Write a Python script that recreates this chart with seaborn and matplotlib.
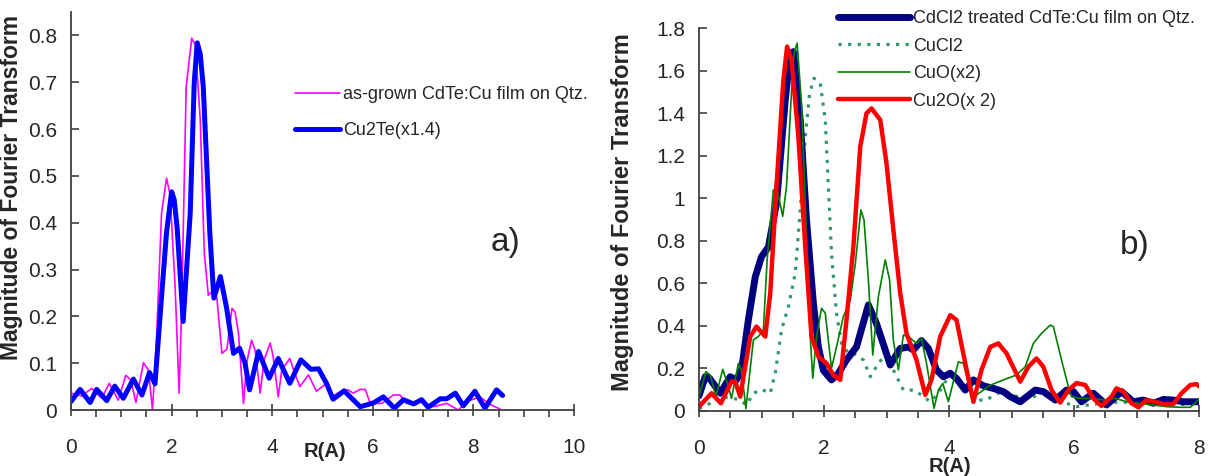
import matplotlib
matplotlib.use("Agg")
import matplotlib.pyplot as plt
from matplotlib.ticker import MultipleLocator
import seaborn as sns

# ---------------- data: panel a ----------------
r_asgrown = [0, 0.21, 0.41, 0.61, 0.76, 0.94, 1.09, 1.19, 1.29, 1.44,
             1.54, 1.62, 1.70, 1.80, 1.90, 1.97, 2.07, 2.15, 2.20, 2.29,
             2.40, 2.47, 2.57, 2.65, 2.73, 2.80, 2.90, 3.00, 3.10, 3.20,
             3.26, 3.33, 3.43, 3.49, 3.59, 3.66, 3.76, 3.84, 3.96, 4.02,
             4.12, 4.19, 4.35, 4.45, 4.55, 4.72, 4.88, 5.08, 5.21, 5.41,
             5.51, 5.61, 5.75, 5.85, 5.95, 6.08, 6.18, 6.41, 6.54, 6.67,
             6.94, 7.20, 7.47, 7.70, 7.87, 8.13, 8.33, 8.53]
m_asgrown = [0.036, 0.030, 0.046, 0.025, 0.057, 0.021, 0.074, 0.064, 0.016, 0.101,
             0.085, 0.000, 0.150, 0.420, 0.495, 0.460, 0.263, 0.036, 0.220, 0.690,
             0.794, 0.780, 0.620, 0.335, 0.245, 0.253, 0.240, 0.121, 0.130, 0.217,
             0.210, 0.164, 0.014, 0.100, 0.149, 0.128, 0.036, 0.107, 0.143, 0.114,
             0.028, 0.085, 0.110, 0.078, 0.050, 0.075, 0.040, 0.057, 0.030, 0.043,
             0.043, 0.036, 0.044, 0.044, 0.014, 0.014, 0.014, 0.032, 0.032, 0.014,
             0.019, 0.007, 0.014, 0.000, 0.018, 0.028, 0.012, 0.002]

r_cu2te = [0, 0.18, 0.38, 0.51, 0.71, 0.87, 1.04, 1.24, 1.41, 1.56,
           1.67, 1.80, 1.90, 2.00, 2.05, 2.11, 2.23, 2.37, 2.45, 2.51,
           2.57, 2.63, 2.76, 2.84, 2.97, 3.09, 3.23, 3.35, 3.46, 3.55,
           3.73, 3.94, 4.12, 4.35, 4.57, 4.77, 4.92, 5.08, 5.21, 5.43,
           5.75, 6.01, 6.21, 6.43, 6.61, 6.81, 6.97, 7.10, 7.34, 7.47,
           7.64, 7.80, 8.03, 8.23, 8.46, 8.58]
m_cu2te = [0.018, 0.044, 0.016, 0.044, 0.020, 0.051, 0.025, 0.066, 0.032, 0.080,
           0.056, 0.242, 0.380, 0.466, 0.450, 0.390, 0.189, 0.420, 0.700, 0.784,
           0.760, 0.690, 0.378, 0.239, 0.285, 0.220, 0.121, 0.132, 0.100, 0.043,
           0.125, 0.068, 0.110, 0.057, 0.107, 0.087, 0.088, 0.057, 0.023, 0.041,
           0.007, 0.015, 0.028, 0.004, 0.022, 0.013, 0.022, 0.006, 0.024, 0.024,
           0.036, 0.009, 0.040, 0.004, 0.043, 0.031]

# ---------------- data: panel b ----------------
r_cdcl2 = [0, 0.10, 0.17, 0.34, 0.50, 0.60, 0.68, 0.79, 0.90, 1.00,
           1.11, 1.24, 1.38, 1.46, 1.51, 1.62, 1.72, 1.83, 1.91, 1.99,
           2.12, 2.23, 2.36, 2.52, 2.71, 2.84, 2.98, 3.06, 3.22, 3.35,
           3.43, 3.56, 3.67, 3.80, 3.91, 4.02, 4.12, 4.26, 4.39, 4.55,
           4.71, 4.87, 4.98, 5.14, 5.38, 5.51, 5.70, 5.88, 5.99, 6.12,
           6.31, 6.52, 6.76, 6.95, 7.11, 7.27, 7.43, 7.59, 7.75, 7.91, 8.0]
m_cdcl2 = [0.07, 0.16, 0.152, 0.082, 0.16, 0.145, 0.19, 0.427, 0.63, 0.725,
           0.77, 0.976, 1.463, 1.68, 1.69, 1.368, 0.898, 0.506, 0.30, 0.19,
           0.145, 0.176, 0.239, 0.30, 0.498, 0.41, 0.286, 0.215, 0.293, 0.30,
           0.286, 0.33, 0.293, 0.192, 0.16, 0.176, 0.152, 0.097, 0.145, 0.117,
           0.105, 0.09, 0.066, 0.042, 0.097, 0.09, 0.05, 0.097, 0.09, 0.042,
           0.082, 0.027, 0.09, 0.042, 0.05, 0.035, 0.053, 0.05, 0.042, 0.042, 0.042]

r_cucl2 = [0, 0.18, 0.34, 0.55, 0.66, 0.76, 0.87, 1.00, 1.14, 1.22,
           1.32, 1.43, 1.54, 1.62, 1.70, 1.77, 1.84, 1.94, 2.02, 2.07,
           2.12, 2.20, 2.28, 2.39, 2.47, 2.63, 2.74, 2.87, 3.00, 3.11,
           3.27, 3.43, 3.56, 3.70, 3.83, 3.96, 4.12, 4.28, 4.44, 4.60,
           4.76, 4.95, 5.15, 5.32, 5.48, 5.88, 6.04, 6.30, 6.60, 7.00,
           7.40, 7.80, 8.0]
m_cucl2 = [0.01, 0.035, 0.066, 0.058, 0.05, 0.027, 0.082, 0.10, 0.082, 0.176,
           0.38, 0.49, 0.647, 0.945, 1.29, 1.494, 1.565, 1.541, 1.368, 1.055,
           0.741, 0.459, 0.318, 0.27, 0.27, 0.239, 0.16, 0.223, 0.27, 0.192,
           0.097, 0.097, 0.074, 0.042, 0.082, 0.145, 0.16, 0.097, 0.05, 0.05,
           0.082, 0.085, 0.058, 0.058, 0.09, 0.035, 0.019, 0.03, 0.04, 0.04,
           0.03, 0.03, 0.04]

r_cuo = [0, 0.11, 0.18, 0.27, 0.38, 0.47, 0.52, 0.63, 0.68, 0.75,
         0.87, 0.95, 1.03, 1.09, 1.19, 1.25, 1.34, 1.40, 1.47, 1.52,
         1.57, 1.64, 1.72, 1.78, 1.82, 1.88, 1.96, 2.02, 2.12, 2.20,
         2.31, 2.42, 2.50, 2.59, 2.64, 2.71, 2.78, 2.87, 2.98, 3.05,
         3.11, 3.19, 3.27, 3.35, 3.48, 3.56, 3.64, 3.76, 3.83, 3.90,
         3.99, 4.07, 4.15, 4.23, 4.34, 4.44, 4.66, 4.87, 5.08, 5.22,
         5.35, 5.48, 5.62, 5.67, 5.80, 5.91, 5.96, 6.10, 6.31, 6.47,
         6.66, 6.84, 7.06, 7.27, 7.48, 7.70, 7.86, 7.96, 8.0]
m_cuo = [0.066, 0.184, 0.168, 0.066, 0.195, 0.113, 0.058, 0.223, 0.19, 0.01,
         0.333, 0.349, 0.38, 0.71, 1.04, 1.04, 0.915, 1.055, 1.447, 1.682,
         1.73, 1.447, 0.82, 0.349, 0.153, 0.349, 0.482, 0.459, 0.20, 0.30,
         0.443, 0.52, 0.69, 0.945, 0.898, 0.615, 0.262, 0.537, 0.71, 0.615,
         0.33, 0.192, 0.356, 0.349, 0.317, 0.34, 0.223, 0.011, 0.097, 0.128,
         0.043, 0.137, 0.23, 0.223, 0.097, 0.074, 0.12, 0.145, 0.168, 0.207,
         0.317, 0.364, 0.403, 0.396, 0.239, 0.113, 0.066, 0.058, 0.058, 0.05,
         0.058, 0.042, 0.035, 0.027, 0.019, 0.016, 0.016, 0.042, 0.055]

r_cu2o = [0, 0.20, 0.35, 0.52, 0.58, 0.66, 0.82, 0.92, 1.06, 1.14,
          1.24, 1.35, 1.41, 1.48, 1.59, 1.70, 1.80, 1.91, 2.04, 2.15,
          2.26, 2.36, 2.47, 2.58, 2.68, 2.76, 2.90, 3.00, 3.11, 3.22,
          3.32, 3.48, 3.62, 3.72, 3.86, 4.02, 4.12, 4.26, 4.39, 4.52,
          4.66, 4.79, 4.92, 5.14, 5.27, 5.40, 5.51, 5.64, 5.78, 5.91,
          6.04, 6.18, 6.31, 6.44, 6.60, 6.68, 6.79, 6.92, 7.03, 7.16,
          7.30, 7.43, 7.59, 7.72, 7.86, 7.96, 8.0]
m_cu2o = [0.019, 0.082, 0.035, 0.137, 0.137, 0.066, 0.349, 0.396, 0.349, 0.553,
          1.055, 1.557, 1.714, 1.65, 1.29, 0.772, 0.349, 0.255, 0.223, 0.168,
          0.145, 0.427, 0.772, 1.243, 1.40, 1.423, 1.369, 1.164, 0.851, 0.553,
          0.364, 0.239, 0.074, 0.145, 0.349, 0.45, 0.427, 0.223, 0.042, 0.192,
          0.30, 0.317, 0.27, 0.137, 0.207, 0.246, 0.207, 0.097, 0.038, 0.097,
          0.13, 0.121, 0.058, 0.022, 0.066, 0.105, 0.09, 0.035, 0.016, 0.05,
          0.042, 0.031, 0.031, 0.082, 0.121, 0.125, 0.115]

labels_a = ["as-grown CdTe:Cu film on Qtz.", "Cu2Te(x1.4)"]
labels_b = ["CdCl2 treated CdTe:Cu film on Qtz.", "CuCl2", "CuO(x2)", "Cu2O(x 2)"]
yticks_a = [0, 0.1, 0.2, 0.3, 0.4, 0.5, 0.6, 0.7, 0.8]
yticklabels_a = ["0", "0.1", "0.2", "0.3", "0.4", "0.5", "0.6", "0.7", "0.8"]
yticks_b = [0, 0.2, 0.4, 0.6, 0.8, 1.0, 1.2, 1.4, 1.6, 1.8]
yticklabels_b = ["0", "0.2", "0.4", "0.6", "0.8", "1", "1.2", "1.4", "1.6", "1.8"]
xticks_a = [0, 2, 4, 6, 8, 10]
xticks_b = [0, 2, 4, 6, 8]

# ---------------- style ----------------
sns.set_theme(style="white")
plt.rcParams['font.family'] = ['Liberation Sans', 'DejaVu Sans']

fig = plt.figure(figsize=(12.08, 4.76), dpi=100)
ax1 = fig.add_axes([71/1208, 1-410/476, 503/1208, 398/476])
ax2 = fig.add_axes([699/1208, 1-410.7/476, 500/1208, 382.4/476])

spine_c = "#404040"
tick_fs = 15

def style_axis(ax, xmax, ymax, yt, ytl, xt):
    ax.set_xlim(0, xmax)
    ax.set_ylim(0, ymax)
    for s in ["top", "right"]:
        ax.spines[s].set_visible(False)
    for s in ["left", "bottom"]:
        ax.spines[s].set_color(spine_c)
        ax.spines[s].set_linewidth(1.3)
    ax.set_yticks(yt)
    ax.set_yticklabels(ytl)
    ax.set_xticks(xt)
    ax.set_xticklabels([str(v) for v in xt])
    ax.xaxis.set_minor_locator(MultipleLocator(0.5))
    ax.tick_params(axis="x", which="major", direction="inout", length=9, width=1.2,
                   color=spine_c, labelsize=tick_fs, pad=16, bottom=True)
    ax.tick_params(axis="x", which="minor", direction="out", length=5, width=1.2,
                   color=spine_c, bottom=True)
    ax.tick_params(axis="y", which="major", direction="in", length=6, width=1.2,
                   color=spine_c, labelsize=tick_fs, pad=10, left=True)
    ax.grid(False)

# panel a
sns.lineplot(x=r_asgrown, y=m_asgrown, ax=ax1, color="#FF00FF", linewidth=1.2,
             label=labels_a[0], sort=False)
sns.lineplot(x=r_cu2te, y=m_cu2te, ax=ax1, color="#0000FF", linewidth=3.6,
             label=labels_a[1], sort=False)
style_axis(ax1, 10, 0.85, yticks_a, yticklabels_a, xticks_a)
h1, l1 = ax1.get_legend_handles_labels()
ax1.legend(h1, l1, loc="center left", bbox_to_anchor=(295/1208, 1-112.5/476),
           bbox_transform=fig.transFigure, frameon=False, fontsize=13,
           handlelength=2.5, handletextpad=0.15, labelspacing=1.04,
           borderpad=0, borderaxespad=0)
ax1.set_ylabel("Magnitude of Fourier Transform", fontsize=16.5, fontweight="bold")
ax1.yaxis.set_label_coords(-0.095, 0.56)
ax1.set_xlabel("R(A)", fontsize=14.5, fontweight="bold")
ax1.xaxis.set_label_coords(0.505, -0.08)
ax1.text(0.863, 0.42, "a)", transform=ax1.transAxes, fontsize=24,
         ha="center", va="center")

# panel b
sns.lineplot(x=r_cucl2, y=m_cucl2, ax=ax2, color="#339966", linewidth=2.3,
             linestyle=(0, (1.0, 2.0)), label=labels_b[1], sort=False)
sns.lineplot(x=r_cdcl2, y=m_cdcl2, ax=ax2, color="#000080", linewidth=5.0,
             label=labels_b[0], sort=False)
sns.lineplot(x=r_cuo, y=m_cuo, ax=ax2, color="#008000", linewidth=1.2,
             label=labels_b[2], sort=False)
sns.lineplot(x=r_cu2o, y=m_cu2o, ax=ax2, color="#FF0000", linewidth=3.2,
             label=labels_b[3], sort=False)
style_axis(ax2, 8, 1.8, yticks_b, yticklabels_b, xticks_b)
h2, l2 = ax2.get_legend_handles_labels()
hm = dict(zip(l2, h2))
ax2.legend([hm[l] for l in labels_b], labels_b, loc="center left",
           bbox_to_anchor=(838/1208, 1-60/476), bbox_transform=fig.transFigure,
           frameon=False, fontsize=13, handlelength=4.0, handletextpad=0.15,
           labelspacing=0.58, borderpad=0, borderaxespad=0)
ax2.set_ylabel("Magnitude of Fourier Transform", fontsize=17, fontweight="bold")
ax2.yaxis.set_label_coords(-0.13, 0.52)
ax2.set_xlabel("R(A)", fontsize=14.5, fontweight="bold")
ax2.xaxis.set_label_coords(0.502, -0.122)
ax2.text(0.872, 0.433, "b)", transform=ax2.transAxes, fontsize=24,
         ha="center", va="center")

fig.savefig("out.png", dpi=100)
